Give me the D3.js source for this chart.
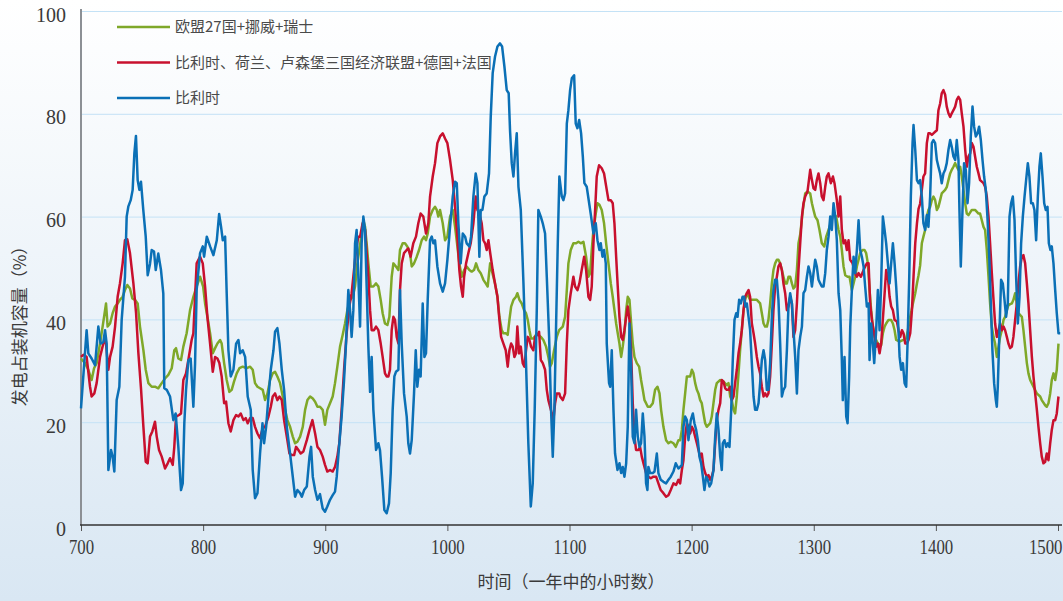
<!DOCTYPE html>
<html>
<head>
<meta charset="utf-8">
<script src="https://cdn.jsdelivr.net/npm/d3@7"></script>
<style>
  html, body { margin: 0; padding: 0; background: #ffffff; }
  svg { display: block; }
</style>
</head>
<body>
<svg id="chart" width="1063" height="601"></svg>
<script>
// Hourly generation as a share of installed capacity (%), hours 700–1500 of the year
const xTicks = [700, 800, 900, 1000, 1100, 1200, 1300, 1400, 1500];
const yTicks = [0, 20, 40, 60, 80, 100];
const seriesNames = ["欧盟27国+挪威+瑞士", "比利时、荷兰、卢森堡三国经济联盟+德国+法国", "比利时"];
const xTitle = "时间（一年中的小时数）";
const yTitle = "发电占装机容量（%）";

// EU27 + Norway + Switzerland  [hour, %]
const euSeries = [[700,32.4],[703.3,31.5],[706,30.2],[708.7,28.2],[710.7,30.5],[712.8,31.5],[715.6,35.3],[717.7,38.6],[720.5,43.1],[721.8,38.6],[723.8,39.2],[725.9,41.2],[727.9,42.5],[730,43.1],[731.9,43.8],[734.1,44.4],[736,45.7],[737.9,46.7],[740.1,46],[742,44.1],[744.2,43.8],[746.4,43.1],[748.3,38.6],[751.1,34],[753,30.2],[755.2,27.6],[757.9,26.9],[760.6,26.9],[763.3,26.6],[766.1,27.6],[768.8,28.5],[771.5,29.2],[774.3,30.5],[776.4,34],[777.8,34.4],[779.7,32.4],[781.9,32.1],[783.8,34.7],[786.5,37.3],[789.3,41.8],[792,44.4],[794.7,46.4],[797.5,48.3],[800,46.4],[801.6,43.1],[803.5,40.5],[805.7,37.3],[807.9,33.4],[809.8,34.4],[811.7,35.3],[813.9,36],[815.2,35.3],[817.2,31.5],[819.3,28.2],[821.5,25.9],[823.4,26.3],[825.3,27.9],[827.5,29.5],[829.7,30.5],[832.4,30.8],[835.7,30.5],[838.5,30.8],[840.6,30.2],[842.5,27.6],[844.5,26.9],[846.6,26.6],[848.8,26.3],[850.7,24.3],[852.7,25.6],[854.8,28.2],[857,29.5],[858.9,29.8],[860.8,28.9],[863,27.6],[865.2,25],[867.1,22.4],[869,20.4],[871.2,19.1],[873.4,17.2],[875.3,15.9],[877.2,16.2],[879.4,17.2],[881.6,19.1],[883.5,22.4],[885.4,24.3],[887.6,25],[889.8,24.6],[891.7,24],[893.6,23],[895.7,23],[897.9,22.4],[899.8,19.5],[901.7,22.4],[903.9,23.7],[906.1,25],[908,27.6],[909.9,30.8],[912.1,34.7],[914.3,37],[916.2,39.2],[918.1,41.8],[920.3,43.8],[922.5,44.4],[924.4,46.4],[926.3,50.9],[927.9,53.5],[929.8,56.7],[931.2,59.3],[932.6,58],[933.9,54.8],[935.3,50.9],[937.2,46.4],[939.4,46.4],[941.6,47],[943.5,46.4],[945.4,43.8],[947,41.2],[948.9,39.2],[950.9,38.9],[952.5,40.5],[954.4,48.3],[955.8,50.9],[957.9,50.3],[959.9,49.6],[961.2,53.5],[963.4,54.8],[965.3,54.8],[967.2,54.2],[969.4,52.9],[970.8,50.3],[972.7,50.9],[974.9,52.2],[976.8,53.5],[979,55.4],[980.9,56.1],[982.5,55.4],[983.9,56.7],[985.8,60],[988,61.3],[989.9,61.9],[991.3,61.3],[992.6,60],[994,61.3],[996.2,58.7],[998.1,55.4],[1000,56.1],[1002.2,60],[1004.4,61.3],[1006.3,58],[1008.2,54.2],[1009.8,50.9],[1011.7,48.3],[1013.7,49.6],[1015.8,50.3],[1018,49.6],[1019.9,49.3],[1021.8,49.6],[1023.5,50.9],[1025.4,49.6],[1027.3,49],[1029.5,47.7],[1031.4,47],[1033,46.4],[1035,50.9],[1036.9,49],[1039,47],[1041,44.4],[1042.6,40.5],[1044.5,37.9],[1045.9,37.3],[1047.8,37.3],[1049.4,37],[1050.8,39.9],[1052.2,42.5],[1054.1,43.8],[1056.2,44.4],[1057.3,45.1],[1059,43.8],[1060.9,43.1],[1062.8,41.8],[1064.4,41.2],[1065.8,39.9],[1067.2,37.9],[1068.5,36.3],[1070.4,36.3],[1072.6,37],[1074.5,37],[1076.5,36.6],[1078.6,36],[1080.8,34.7],[1082.7,32.7],[1084.1,30.8],[1085.5,31.5],[1087.4,34],[1089.6,36.6],[1091.5,37.9],[1094.5,38.6],[1096.4,40.5],[1097.8,45.7],[1099.1,50.9],[1101,53.5],[1103.2,54.8],[1105.4,54.8],[1107.3,55.1],[1109.2,54.8],[1111.4,55.1],[1113.6,52.2],[1115.5,48.3],[1116.9,49],[1118.2,53.5],[1119.6,57.4],[1121.5,60.6],[1122.9,62.6],[1124.5,62.3],[1126.4,61.3],[1128.3,58.7],[1130,54.8],[1131.9,50.9],[1133.8,47],[1135.4,44.4],[1136.8,41.8],[1138.2,39.2],[1139.5,37.3],[1140.9,35.3],[1142.3,32.7],[1143.6,34.7],[1145,37.3],[1146.4,41.8],[1147.7,44.4],[1149.1,43.8],[1150.5,39.2],[1151.8,35.3],[1153.2,32.7],[1155.1,31.5],[1157,30.8],[1158.6,28.2],[1160,26.3],[1161.4,24.3],[1162.7,23.7],[1164.1,23],[1166,23],[1168.2,23.7],[1170.1,26.3],[1172,26.9],[1173.7,25.6],[1175,22.4],[1176.9,19.1],[1179.1,16.5],[1181,15.9],[1182.9,16.2],[1185.1,15.9],[1187,15.2],[1189.2,16.5],[1190.6,16.5],[1192,18.5],[1193.3,22.4],[1194.7,25.6],[1196.1,28.9],[1198.8,28.9],[1200.2,30.2],[1201.5,29.5],[1202.9,27.6],[1204.3,26.3],[1205.6,25.6],[1207,24.3],[1208.3,23.7],[1209.7,21.7],[1211.1,19.8],[1212.4,19.1],[1215.2,19.8],[1216.5,21.1],[1217.9,23.7],[1219.3,26.3],[1220.6,27.6],[1223.4,28.2],[1226.1,27.9],[1228.8,27.2],[1230.2,27.6],[1231.6,25],[1232.9,24.3],[1234.3,22.4],[1235.6,21.7],[1237,25],[1238.4,29.5],[1239.7,34],[1241.1,37.9],[1242.5,41.8],[1243.8,43.8],[1245.2,45.1],[1246.6,44.4],[1247.9,43.8],[1250.7,43.8],[1253.4,43.8],[1256.1,43.1],[1257.5,41.2],[1258.9,39.2],[1260.2,38.6],[1261.6,38.6],[1262.9,39.9],[1264.3,43.1],[1265.7,47],[1267,49.6],[1268.4,50.9],[1269.8,51.6],[1271.1,51.6],[1272.5,50.9],[1273.9,49.6],[1275.2,48.3],[1276.6,47],[1278,47],[1279.3,48.3],[1280.7,48.3],[1282.1,47],[1283.4,46],[1284.8,46.4],[1286.2,49.6],[1287.5,54.8],[1288.9,56.5],[1291.1,61.3],[1293,64.5],[1294.9,64.9],[1297.1,64.5],[1298.5,62.6],[1299.8,61.3],[1301.2,60],[1303.1,59.3],[1304.7,57.4],[1306.6,54.8],[1308.6,54.2],[1310.2,56.1],[1312.1,57.4],[1314,58.7],[1316.2,60.6],[1318.4,60],[1320.3,57.4],[1321.7,56.1],[1323,53.5],[1324.4,50.3],[1325.8,48.6],[1327.7,48.3],[1329.3,48.3],[1331.2,45.7],[1332.6,47],[1333.9,48.3],[1335.3,50.3],[1336.7,51.6],[1338,52.9],[1339.9,53.5],[1341.6,53.5],[1342.9,52.9],[1344.3,50.9],[1345.7,45.7],[1347,41.8],[1348.4,38.6],[1349.8,36.6],[1351.1,36],[1352.5,35.3],[1355.2,35],[1356.6,37.3],[1358,38.6],[1359.3,39.2],[1361.2,39.9],[1363.4,39.9],[1364.8,39.2],[1366.2,37.9],[1367.5,36],[1370.3,35.7],[1373.5,36],[1375.7,36.3],[1377.1,37.9],[1379,40.5],[1381.2,43.1],[1383.1,45.1],[1384.5,47],[1385.8,48.6],[1387.1,50.5],[1388.5,54.8],[1389.8,56.1],[1391.2,57.4],[1392.6,60],[1393.9,61.3],[1395.3,61.9],[1396.7,63.2],[1398,63.9],[1399.4,63.2],[1400.8,61.3],[1402.1,61.9],[1403.5,63.2],[1404.8,64.5],[1407.6,65.2],[1409,65.8],[1410.3,67.1],[1411.7,68.4],[1413,69.1],[1414.4,69.7],[1415.8,70.4],[1417.1,69.7],[1418.5,69.1],[1419.9,69.7],[1421.2,67.8],[1422.6,65.2],[1424,62.6],[1425.3,60.6],[1426.7,60.3],[1429.4,61.3],[1432.1,61.3],[1434.9,60.6],[1436.2,60.6],[1437.6,59.3],[1439,58],[1440.3,57.4],[1441.7,53.5],[1443.1,48.3],[1444.4,43.1],[1445.8,38.6],[1447.2,36.6],[1448.5,35.3],[1449.9,32.7],[1451.3,34.7],[1452.6,36.6],[1454,37.9],[1455.4,39.9],[1456.7,40.5],[1458.1,41.8],[1459.4,42.8],[1462.2,43.1],[1463.5,43.8],[1464.9,45.1],[1466.3,43.1],[1467.6,41.2],[1470.4,40.5],[1471.7,37.9],[1473.1,34.7],[1474.5,31.5],[1475.8,29.5],[1477.2,28.2],[1479.9,26.9],[1482.6,25.6],[1485.4,25],[1486.7,24.3],[1489.5,23.3],[1490.8,23],[1492.2,23.7],[1493.6,25.6],[1494.9,28.2],[1496.3,29.5],[1497.7,28.2],[1499,30.2],[1500.4,35.3]];

// Belgium, Netherlands, Luxembourg + Germany + France  [hour, %]
const cweSeries = [[700,32.7],[701.9,33.1],[704.6,32.7],[707.4,26.9],[708.7,25],[710.9,25.6],[712.8,27.6],[715.6,32.7],[718.3,35.3],[720.2,36],[722.4,30.2],[723.8,32.7],[725.9,34.7],[727.9,38.6],[730,44.4],[731.9,47],[734.1,50.9],[736,55.4],[737.9,55.6],[740.1,52.9],[742.9,47],[745.1,41.2],[747,33.4],[749.2,26.3],[751.1,19.1],[753,12.3],[754.6,12],[756.5,17.2],[758.4,18.2],[760.6,20.1],[762,17.2],[763.9,14.6],[766.1,13.3],[768.8,11],[771,12],[772.9,13],[775.1,11.7],[776.4,15.2],[777.8,21.1],[780.3,21.4],[781.9,21.7],[783.8,28.2],[786,29.5],[787.9,32.1],[790.6,36],[792,37.3],[793.4,44.4],[794.7,50.9],[797.5,52.2],[799.7,50.9],[801.6,46.4],[803.5,40.5],[805.7,35.3],[807.9,29.8],[809.8,32.7],[811.7,32.4],[813.3,31.5],[815.2,28.9],[817.2,23.7],[818.8,24],[820.7,19.8],[822.6,18.2],[824.8,20.4],[827,21.4],[828.9,21.1],[830.8,21.7],[833,20.4],[834.9,20.8],[836.5,19.8],[838.5,20.8],[840.6,20.8],[842.5,19.1],[844.5,17.8],[846.6,16.9],[848.8,18.8],[850.7,19.1],[853.5,21.1],[855.4,23],[857,25],[858.9,25.6],[860.8,24.3],[862.5,25],[864.4,24.3],[866.3,20.4],[868.5,17.2],[870.7,13.9],[872.6,13.6],[874.5,13.6],[876.1,15.2],[878,14.6],[879.9,13.9],[882.1,14.3],[884.9,16.5],[887.1,18.5],[889.5,20.4],[891.7,17.8],[893.6,15.2],[895.7,14.6],[897.9,13.3],[899.8,11.7],[901.7,10.4],[903.9,10.7],[906.1,10.4],[908,11.3],[909.9,13.3],[911.5,15.9],[913.4,22.4],[915.4,30.2],[917.5,37.3],[919.7,42.5],[921.6,45.1],[923,48.3],[925.2,53.5],[927.1,56.1],[928.5,56.1],[930.6,58.7],[932.6,57.4],[933.9,52.9],[935.3,48.3],[936.7,41.8],[938,37.9],[939.9,37.9],[941.6,38.6],[943.5,37.9],[945.4,35.3],[947,32.7],[948.9,29.5],[950.3,28.9],[951.7,28.9],[953,30.2],[954.4,37.9],[955.8,40.5],[957.1,39.9],[958.5,36.6],[959.9,35.3],[961.2,45.7],[962.6,50.9],[964.5,52.9],[966.7,53.5],[968,53.8],[969.9,52.2],[972.1,54.8],[974.3,56.1],[976.2,58.7],[978.1,60.6],[980.3,60],[982.5,56.7],[984.4,58.7],[985.8,63.9],[988,67.8],[989.9,70.4],[991.8,74.3],[994,75.6],[996.2,76.2],[998.1,75.2],[1000,74.3],[1002.2,71],[1004.4,67.1],[1006.3,61.9],[1008.2,56.1],[1009.8,49.6],[1011.2,46.4],[1012.6,44.4],[1013.7,48.3],[1015.3,50.9],[1017.2,52.9],[1019.1,54.8],[1021.3,58.7],[1023.2,63.9],[1024.6,61.3],[1026.2,60.6],[1028.1,58.7],[1029.5,55.4],[1030.9,54.8],[1032.2,53.5],[1033.6,55.4],[1035.5,52.2],[1037.1,49.6],[1039,47],[1041,44.4],[1042.6,39.9],[1044,36.6],[1045.9,35.3],[1047.8,34],[1049.4,30.8],[1050.8,34],[1052.2,35.3],[1053.5,34.7],[1054.9,32.7],[1056.2,33.4],[1057.3,38.6],[1058.7,33.4],[1060.1,34.7],[1061.7,31.5],[1063.1,30.8],[1064.4,34],[1065.8,36.6],[1067.2,36],[1068.5,34.7],[1070.4,34],[1071.8,36.6],[1073.7,37],[1075.1,37.6],[1076.5,32.1],[1078.1,31.5],[1080,30.2],[1081.4,26.3],[1082.7,24.3],[1084.1,23],[1085.5,21.7],[1086.8,20.4],[1088.2,23.7],[1089.6,25.6],[1091.7,25.6],[1092.3,25],[1094.5,24.3],[1096.4,25.6],[1097.8,35.3],[1099.1,41.8],[1101,45.1],[1103.2,48.3],[1104.6,46.4],[1106.5,45.7],[1108.1,47],[1110,49.6],[1112,52.2],[1113.6,49.6],[1115.5,44.4],[1116.9,43.8],[1118.2,46.4],[1119.6,54.8],[1121,61.3],[1122.3,67.8],[1124.2,70],[1126.4,69.4],[1128.3,68.4],[1130.5,65.2],[1131.9,63.2],[1133.8,63.2],[1135.4,62.6],[1136.8,58.7],[1138.2,52.2],[1139.5,46.4],[1140.9,40.5],[1142.3,36.6],[1143.6,36],[1145,37.9],[1146.4,40.5],[1147.7,42.5],[1149.1,39.9],[1150.5,33.4],[1151.8,23.7],[1153.2,17.2],[1154.5,14.6],[1156.5,14.6],[1157.8,15.2],[1159.2,13.3],[1160.6,12],[1162.7,10.1],[1164.6,9.4],[1166.6,9.1],[1168.7,9.4],[1170.9,9.4],[1172.8,8.1],[1174.7,6.8],[1176.9,6.2],[1179.1,5.5],[1181,5.8],[1182.9,6.8],[1185.1,8.1],[1187.3,7.8],[1189.2,8.8],[1190.6,8.1],[1192,10.7],[1193.3,12.6],[1194.7,17.2],[1196.1,19.8],[1197.4,19.1],[1198.8,17.8],[1200.2,19.1],[1201.5,18.5],[1202.9,17.2],[1204.3,15.9],[1205.6,14.6],[1207,13.3],[1208.3,13.9],[1209.7,11.3],[1211.1,10.1],[1212.4,9.4],[1213.8,9.7],[1215.2,8.8],[1216.5,9.4],[1217.9,10.7],[1219.3,15.9],[1220.6,20.4],[1222,22.4],[1223.4,23.7],[1224.7,28.2],[1226.1,27.9],[1227.5,26.6],[1228.8,26.3],[1230.2,26.3],[1231.6,26.9],[1232.9,24.3],[1234.3,25],[1235.6,27.6],[1237,30.2],[1238.4,33.4],[1239.7,35.3],[1241.1,37.9],[1242.5,41.8],[1243.8,44.4],[1245.2,45.1],[1246.6,45.7],[1247.9,44.4],[1249.3,39.2],[1250.7,37.3],[1252,35.3],[1253.4,32.7],[1254.8,30.8],[1256.1,29.5],[1257.5,26.9],[1258.9,25],[1260.2,25.6],[1261.6,25],[1262.9,25.6],[1264.3,28.9],[1265.7,35.3],[1267,41.8],[1268.4,46.4],[1269.8,48.3],[1271.1,50.3],[1272.5,50.9],[1273.9,49.6],[1275.2,47],[1276.6,45.1],[1278,41.8],[1279.3,42.5],[1280.7,44.4],[1282.1,43.1],[1283.4,36.6],[1284.8,37.9],[1286.2,43.1],[1287.5,49.6],[1288.9,54.8],[1290.3,60],[1291.6,62.6],[1293,63.9],[1294.9,64.9],[1297.1,69.1],[1298.5,67.1],[1299.8,65.5],[1301.2,65.2],[1302.5,67.1],[1303.9,68.4],[1305.3,66.5],[1306.6,63.9],[1308,63.2],[1309.4,65.8],[1310.7,67.8],[1312.1,68.4],[1314,66.5],[1315.7,67.8],[1317,66.5],[1318.9,63.2],[1320.3,60],[1321.7,63.9],[1323,57.4],[1324.4,54.8],[1325.8,55.4],[1327.1,53.5],[1328.5,55.4],[1329.8,51.6],[1331.8,50.9],[1333.9,49],[1335.3,48.3],[1336.7,49],[1338.6,48.3],[1340.8,49.6],[1342.1,50.3],[1343.5,50.9],[1344.9,50.9],[1346.2,43.1],[1347.6,39.9],[1349,37.9],[1351.1,34.7],[1352.5,35.3],[1353.9,33.4],[1355.2,35.3],[1357.1,41.8],[1359.3,49.6],[1360.7,48.3],[1362.1,44.4],[1363.4,42.5],[1364.8,41.8],[1366.2,39.9],[1368.1,39.6],[1369.4,37.9],[1370.8,36.6],[1372.2,37.9],[1373.5,37.3],[1374.9,35.3],[1376.3,35.3],[1377.6,36],[1379,37.3],[1380.4,41.8],[1381.7,48.3],[1383.1,54.8],[1384.5,58.7],[1385.8,61.5],[1387.1,62.5],[1388.5,65.2],[1389.8,67.8],[1391.2,68.4],[1392.6,74.3],[1393.9,76.2],[1395.3,76.2],[1396.7,75.9],[1398,76.2],[1399.4,76.5],[1400.8,76.8],[1402.1,80.7],[1403.5,82],[1404.8,84],[1406.2,84.6],[1407.6,83.7],[1408.9,81.4],[1410.3,80.1],[1411.7,79.4],[1413,80.1],[1414.4,80.7],[1415.8,81.4],[1417.1,82.7],[1418.5,83.3],[1419.9,82.7],[1421.2,80.1],[1422.6,77.5],[1424,73],[1425.3,69.7],[1426.7,71.7],[1428.1,72.3],[1429.4,74.3],[1430.8,73.6],[1432.1,71.7],[1433.5,69.7],[1434.9,68.4],[1436.2,67.1],[1439,66.5],[1440.3,65.8],[1441.7,63.9],[1443.1,60],[1444.4,54.8],[1445.8,49],[1447.2,43.8],[1448.5,39.2],[1449.9,36.6],[1451.3,37.9],[1452.6,39.2],[1454,37.9],[1455.4,38.6],[1456.7,37.9],[1458.1,36.6],[1459.4,35.3],[1460.8,34.4],[1462.2,34.7],[1463.5,36.6],[1464.9,39.9],[1466.3,43.1],[1467.6,47],[1469,50.3],[1470.4,52.2],[1471.7,52.5],[1473.1,50.9],[1474.5,47],[1475.8,43.1],[1477.2,37.9],[1478.6,32.7],[1479.9,28.9],[1481.3,25.6],[1482.7,22.4],[1484,19.1],[1485.4,15.9],[1486.7,13.3],[1488.1,12],[1489.5,12.3],[1490.8,13.9],[1492.2,12.6],[1493.6,15.9],[1494.9,18.5],[1496.3,20.4],[1497.7,20.4],[1499,21.7],[1500.4,25]];

// Belgium  [hour, %]
const beSeries = [[700,22.7],[704.6,37.9],[706,33.4],[708.7,32.4],[711.5,31.1],[714.2,38.6],[716.1,35.3],[718.3,35.6],[719.7,37.9],[721,35.3],[722.4,10.7],[724.6,14.6],[725.9,13.3],[727.3,10.4],[729.2,24.3],[731.4,26.9],[733.3,39.9],[736,48.3],[737.4,60],[738.8,62],[740.7,63.2],[742.3,65.2],[743.7,72.3],[745,75.7],[746.4,67.1],[747.8,65.2],[749.1,66.8],[751,61.3],[753,56.1],[754.6,48.6],[756.5,50.8],[757.9,53.5],[759.8,53.2],[761.2,49.6],[763.3,52.8],[765.5,49.6],[767.4,45],[768.2,26.6],[770.2,26.3],[772.9,25],[775.6,20.4],[777.5,21.7],[779.7,15.2],[781.9,6.8],[783.3,8.1],[784.6,19.8],[786,26.3],[787.9,32],[789.8,32.4],[792,23],[793.4,31.4],[794.7,45.7],[797.5,52.9],[799.7,54.2],[800.8,52.2],[803,56.1],[805.7,54.2],[808.4,52.5],[811.2,55.4],[813.1,60.5],[814.7,58],[816.1,55.4],[818,56.1],[819.3,45.1],[820.7,34],[822.6,28.9],[824.8,30.2],[827,35.3],[828.9,36],[830.3,33.4],[832.4,34],[834.4,32.7],[836.5,25],[839,22.4],[840.6,10.7],[842.5,5.2],[844.5,6.2],[846.6,13.9],[848.6,19.8],[849.9,15.9],[851.6,19.1],[853.5,25],[855.4,30.2],[857.6,34],[858.9,37.6],[860.8,38.3],[862.5,35.3],[864.4,30.2],[866.3,26.3],[868.5,19.1],[871.2,13.9],[873.4,9.4],[875.3,5.5],[877.2,6.8],[879.4,6.2],[880.8,5.5],[882.7,6.8],[884.9,7.5],[887.1,13.3],[888.4,15.2],[889.8,9.4],[891.7,6.8],[893.6,4.9],[895.7,6],[897.9,3.2],[899.8,2.6],[901.7,3.6],[903.9,4.9],[906.1,5.8],[908,6.5],[909.4,9.4],[911.3,15.2],[913.4,21.1],[915.4,28.2],[917,35.3],[918.9,45.7],[920.3,41.8],[921.6,36.6],[923,41.8],[924.4,54.8],[925.7,57.4],[927.1,48.3],[928.5,38.6],[929.8,54.8],[931.2,60],[932.6,57.4],[933.9,46.4],[935.3,34.7],[936.7,25.9],[938,32.7],[939.4,22.4],[941.6,14.6],[943.5,15.9],[944.8,14.6],[946.5,9.4],[948.4,2.9],[950.3,2.3],[952.2,4.2],[953.6,10.1],[955.2,22.4],[956.6,28.9],[957.9,29.8],[959.9,30.2],[961.2,45.7],[962.6,35.3],[964.5,25.6],[966.7,21.1],[968,15.9],[969.4,13.9],[970.8,16.5],[972.7,25.6],[974.1,34],[975.4,26.9],[976.8,30.2],[978.1,28.9],[979.8,43.1],[981.2,32.7],[982.5,33.4],[983.9,43.8],[985.8,55.4],[987.2,56.1],[988.5,54.8],[989.9,55.4],[991.8,50.3],[994,47],[996.2,45.4],[998.1,47],[1000,51.6],[1002.2,58],[1004.4,63.9],[1006.3,66.8],[1007.7,66.5],[1009,58.7],[1010.9,50.9],[1012.6,56.7],[1014.5,56.1],[1015.8,54.8],[1018,54.2],[1019.4,56.1],[1021.3,63.9],[1023.2,68.4],[1024.6,66.5],[1026.2,52.2],[1027.3,61.3],[1028.7,61.3],[1030.3,63.9],[1032.2,64.5],[1034.1,68.4],[1035.5,79.4],[1037.1,87.9],[1039,91.1],[1041,93.1],[1043.1,93.7],[1044.8,93.1],[1046.7,89.2],[1048.6,84.6],[1050.2,84],[1051.3,76.8],[1052.7,70.4],[1054.1,67.8],[1055.4,72.3],[1056.8,76.2],[1058.2,65.8],[1060.1,61.3],[1062.3,47],[1064.4,31.5],[1066.3,15.9],[1068.3,3.6],[1069.9,8.1],[1071.5,22.4],[1073.2,41.8],[1074.5,61.3],[1076.5,60],[1078.1,58.7],[1080,56.7],[1081.4,48.3],[1083.3,36.6],[1084.9,22.4],[1086.3,13.3],[1087.6,22.4],[1089,38.6],[1090.4,54.8],[1091.7,67.8],[1093.7,63.9],[1095,63.2],[1096.4,64.5],[1097.8,78.1],[1099.1,80.7],[1100.5,84.6],[1101.9,86.9],[1103.8,87.5],[1105.1,78.1],[1106.5,77.2],[1107.9,78.8],[1109.5,76.2],[1110.9,71.7],[1112.2,66.5],[1114.1,65.8],[1116.1,62.6],[1117.7,60],[1119.6,56.7],[1121.5,58.7],[1122.9,55.4],[1124.5,53.5],[1125.6,54.8],[1127,52.2],[1128.3,53.5],[1129.7,50.9],[1130.5,35.3],[1132.4,27.6],[1133.3,26.9],[1134.6,34],[1136,22.4],[1137.3,13.9],[1139.3,10.7],[1140.9,12],[1142.3,10.1],[1143.6,11.3],[1145,9.4],[1146.4,12],[1147.7,19.1],[1149.1,39.2],[1150.5,30.2],[1151.8,17.2],[1153.2,15.9],[1154.5,22.4],[1155.9,17.2],[1157.3,15.2],[1158.6,15.9],[1160,21.7],[1161.4,17.2],[1162.7,8.1],[1163.8,6.8],[1164.6,11.3],[1166,10.1],[1168.2,10.1],[1169.6,10.4],[1171.5,13.9],[1172.8,10.1],[1174.7,8.8],[1176.9,8.4],[1179.1,8.1],[1181,8.8],[1182.9,9.4],[1185.1,10.4],[1187,12],[1189.2,11],[1190.6,11.3],[1192,11.7],[1193.3,19.1],[1194.7,21.1],[1196.1,20.4],[1197.4,16.5],[1199.3,20.4],[1201,21.7],[1202.3,19.8],[1203.7,18.5],[1205.1,16.5],[1206.4,13.3],[1207.8,12],[1209.2,9.4],[1210.5,6.8],[1211.9,9.4],[1213.3,8.8],[1214.6,7.5],[1216,8.1],[1217.9,10.7],[1219.3,17.2],[1220.6,21.7],[1222,18.5],[1223.4,13.3],[1224.7,10.7],[1225.5,15.9],[1226.9,16.5],[1228.3,15.2],[1229.6,15.9],[1231,15.2],[1232.4,22.4],[1233.7,32.1],[1235.1,39.9],[1236.5,41.2],[1237.6,40.5],[1238.9,43.8],[1240.3,43.1],[1241.7,44.4],[1243,44.4],[1244.1,42.5],[1245.2,43.1],[1246.6,40.5],[1247.9,37.9],[1249.3,31.5],[1250.7,25],[1252,22.4],[1253.4,22.4],[1254.8,23.7],[1256.1,27.6],[1257.5,32.1],[1258.9,34],[1260.2,32.1],[1261.6,26.3],[1262.9,26.3],[1264.3,31.5],[1265.7,40.5],[1267,45.7],[1268.4,47.7],[1269.8,47.7],[1271.1,43.8],[1272.5,35.3],[1273.9,25],[1275.2,26.3],[1276.6,26.9],[1278,34],[1279.3,42.5],[1280.7,45.1],[1282.1,43.1],[1283.4,37.9],[1284.8,32.7],[1286.2,25.6],[1287.5,34],[1288.9,36.6],[1290.3,38.6],[1291.6,45.1],[1293,45.7],[1294.4,48.3],[1295.7,50.3],[1297.1,49],[1298.5,46.4],[1299.8,49],[1301.2,51.6],[1302.5,50.3],[1303.9,47.7],[1305.3,47],[1306.6,46.4],[1308,46.4],[1309.4,49],[1310.7,53.5],[1312.1,56.1],[1313.5,60],[1314.8,57.4],[1316.2,62.6],[1317.6,60],[1318.9,55.4],[1320.3,45.1],[1321.7,41.8],[1323,32.1],[1323.8,24.3],[1325.2,32.7],[1326.6,21.1],[1327.7,19.8],[1329,28.9],[1329.9,38.6],[1331.2,45.7],[1332.6,52.2],[1333.9,49],[1335.3,53.5],[1336.7,59.3],[1338,53.5],[1339.4,52.2],[1340.8,50.3],[1342.1,46.4],[1343.5,42.5],[1344.9,43.1],[1345.7,32.1],[1347,39.2],[1348.4,35.3],[1349.5,31.5],[1351.1,37.9],[1352.5,45.7],[1353.9,37.9],[1355.2,47],[1356.6,60],[1358,57.4],[1359.3,54.8],[1360.7,50.9],[1362.1,47],[1363.4,50.9],[1364.8,54.8],[1366.2,50.9],[1367.5,46.4],[1368.9,40.5],[1370.3,32.7],[1371.6,30.2],[1373,31.5],[1374.4,27.6],[1375.7,26.9],[1376.8,35.3],[1378.2,48.3],[1379.5,63.9],[1380.9,74.3],[1381.7,77.8],[1383.1,73],[1384.5,67.1],[1385.8,66.5],[1387.1,67.1],[1388.5,63.9],[1389.8,58.7],[1391.2,57.4],[1392.6,60.3],[1393.9,58],[1395.3,63.9],[1396.7,74.3],[1398,74.9],[1399.4,74.3],[1400.8,71],[1402.1,69.7],[1403.5,68.4],[1404.8,66.5],[1406.2,68.4],[1407.6,69.1],[1408.9,70.4],[1410.3,73],[1411.7,74.9],[1413,73.6],[1414.4,71.7],[1415.8,71],[1417.1,74.9],[1418.5,71],[1419.3,61.3],[1420.4,50.3],[1421.8,61.3],[1423.1,70.4],[1424.5,69.1],[1425.9,62.6],[1427.2,66.5],[1428.6,75.6],[1430,81.4],[1431.3,77.5],[1432.7,75.6],[1434.1,76.2],[1435.4,77.5],[1436.8,74.9],[1438.2,71],[1439.5,67.8],[1440.9,65.2],[1442.2,60],[1443.6,52.9],[1445,43.1],[1446.3,34],[1447.7,27.6],[1449.1,24.3],[1449.9,23],[1450.7,26.9],[1452.1,37.9],[1453.4,47.7],[1454.8,47],[1456.2,43.8],[1457.5,40.5],[1458.9,43.1],[1460.3,60],[1461.6,62.6],[1463,63.9],[1464.4,59.3],[1465.7,48.3],[1467.1,39.2],[1468.5,44.4],[1469.8,54.8],[1471.2,60],[1472.6,63.9],[1473.9,67.1],[1475.3,70.4],[1476.6,67.8],[1478,62.6],[1479.4,62.6],[1480.7,61.3],[1482.1,55.4],[1483.5,63.9],[1484.8,69.7],[1485.9,72.3],[1487.3,67.8],[1488.7,62.6],[1490,61.3],[1491.4,61.9],[1492.5,54.8],[1493.8,53.5],[1494.9,54.2],[1496.3,50.9],[1497.7,45.7],[1499,41.2],[1500.4,37.3],[1501.8,37.3]];

const seriesColors = ["#7fa829", "#c8102e", "#0b70b6"];

const W = 1063, H = 601;
const svg = d3.select("#chart");

// page background: white fading into pale blue
const defs = svg.append("defs");
const grad = defs.append("linearGradient").attr("id", "bg").attr("x1", 0).attr("y1", 0).attr("x2", 0).attr("y2", 1);
grad.append("stop").attr("offset", "0%").attr("stop-color", "#ffffff");
grad.append("stop").attr("offset", "100%").attr("stop-color", "#d9e7f3");
svg.append("rect").attr("width", W).attr("height", H).attr("fill", "url(#bg)");

const plotLeft = 81, plotRight = 1062, plotTop = 11, plotBottom = 525;
const x = d3.scaleLinear().domain([700, 1500]).range([81, 1058]);
const y = d3.scaleLinear().domain([0, 100]).range([plotBottom, plotTop]);

// horizontal gridlines
svg.append("g")
  .attr("transform", `translate(${plotLeft},0)`)
  .call(d3.axisLeft(y).tickValues(yTicks.filter(v => v > 0)).tickSize(-(plotRight - plotLeft)).tickFormat(""))
  .call(g => g.select(".domain").remove())
  .call(g => g.selectAll("line").attr("stroke", "#c4e2f6").attr("stroke-width", 1));

// y axis: vertical rule + labels
svg.append("line")
  .attr("x1", plotLeft).attr("x2", plotLeft).attr("y1", plotTop - 2).attr("y2", plotBottom)
  .attr("stroke", "#8c9095").attr("stroke-width", 2);
svg.append("g")
  .attr("transform", `translate(${plotLeft},0)`)
  .call(d3.axisLeft(y).tickValues(yTicks).tickSize(0).tickPadding(15))
  .call(g => g.select(".domain").remove())
  .call(g => g.selectAll("text")
    .attr("dy", "0.5em")
    .attr("fill", "#3a3a3a")
    .style("font-family", "'Liberation Serif', 'DejaVu Serif', serif")
    .style("font-size", "20px"));

// x axis
const xAxis = svg.append("g")
  .attr("transform", `translate(0,${plotBottom})`)
  .call(d3.axisBottom(x).tickValues(xTicks).tickSize(6).tickSizeOuter(0).tickPadding(9).tickFormat(d3.format("d")));
xAxis.select(".domain").remove();
xAxis.selectAll("line").attr("stroke", "#555").attr("stroke-width", 1);
xAxis.selectAll("text")
  .attr("fill", "#3a3a3a")
  .attr("transform", "scale(0.84,1)")
  .style("font-family", "'Liberation Serif', 'DejaVu Serif', serif")
  .style("font-size", "20px");
// keep the last label inside the frame
xAxis.selectAll("text").filter(d => d === xTicks[xTicks.length - 1])
  .attr("text-anchor", "end")
  .attr("x", 4 / 0.84);
svg.append("line")
  .attr("x1", plotLeft - 1).attr("x2", plotRight).attr("y1", plotBottom).attr("y2", plotBottom)
  .attr("stroke", "#333").attr("stroke-width", 1.6);

// series lines
const line = d3.line().x(d => x(d[0])).y(d => y(d[1])).curve(d3.curveLinear);
const allSeries = [euSeries, cweSeries, beSeries];
svg.append("g").selectAll("path")
  .data(allSeries)
  .join("path")
  .attr("d", line)
  .attr("fill", "none")
  .attr("stroke", (d, i) => seriesColors[i])
  .attr("stroke-width", 2.5)
  .attr("stroke-linejoin", "round");

// legend
const legend = svg.append("g");
seriesNames.forEach((name, i) => {
  const ly = 27 + i * 35.5;
  legend.append("line")
    .attr("x1", 117).attr("x2", 170).attr("y1", ly).attr("y2", ly)
    .attr("stroke", seriesColors[i]).attr("stroke-width", 2.6);
  legend.append("text")
    .attr("x", 175).attr("y", ly).attr("dy", "0.36em")
    .attr("fill", "#4a4a4a")
    .style("font-family", "'Noto Sans CJK SC', sans-serif")
    .style("font-size", "15px")
    .text(name);
});

// axis titles
svg.append("text")
  .attr("transform", `translate(20,322) rotate(-90)`)
  .attr("text-anchor", "middle")
  .attr("dy", "0.35em")
  .attr("fill", "#3a3a3a")
  .style("font-family", "'Noto Sans CJK SC', sans-serif")
  .style("font-size", "17px")
  .text(yTitle);
svg.append("text")
  .attr("x", 571).attr("y", 582)
  .attr("text-anchor", "middle")
  .attr("dy", "0.35em")
  .attr("fill", "#3a3a3a")
  .style("font-family", "'Noto Sans CJK SC', sans-serif")
  .style("font-size", "17px")
  .text(xTitle);
</script>
</body>
</html>
